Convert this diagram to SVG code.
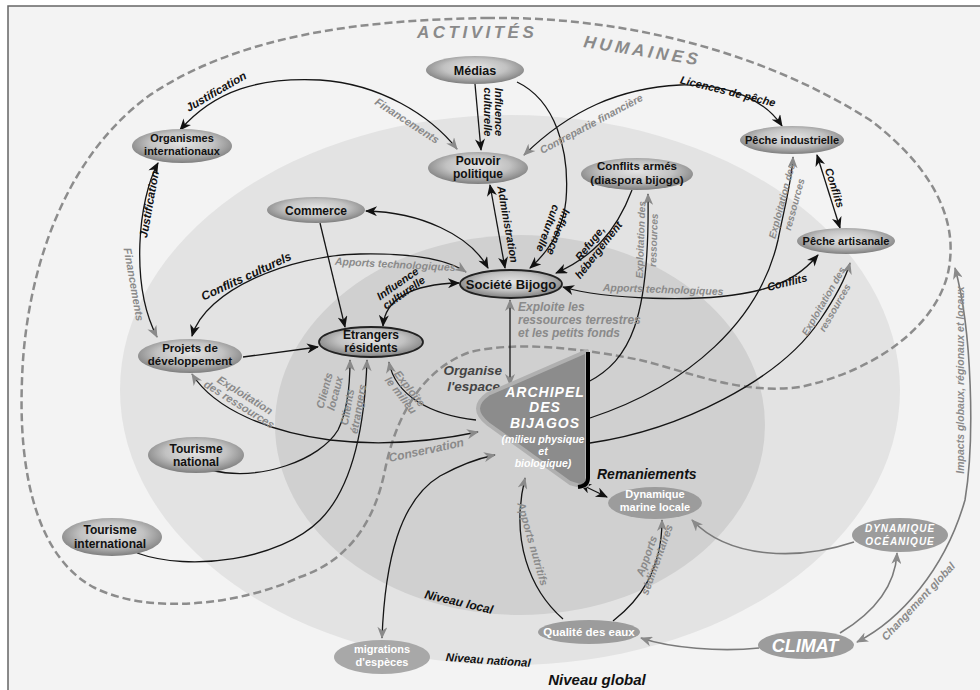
<svg xmlns="http://www.w3.org/2000/svg" width="980" height="690" viewBox="0 0 980 690">
<defs>
<style>
.ln{fill:none;stroke:#151515;stroke-width:1.3}
.lg{fill:none;stroke:#7a7a7a;stroke-width:1.6}
.nt{font-family:"Liberation Sans",Arial,sans-serif;font-weight:bold;fill:#111;text-anchor:middle}
.wt{font-family:"Liberation Sans",Arial,sans-serif;font-weight:bold;fill:#fff;text-anchor:middle}
.lb{font-family:"Liberation Sans",Arial,sans-serif;font-weight:bold;font-style:italic;fill:#111;text-anchor:middle}
.lgt{font-family:"Liberation Sans",Arial,sans-serif;font-weight:bold;font-style:italic;fill:#8a8a8a;text-anchor:middle}
.nd{fill:url(#ng)}
.nb{fill:#9c9c9c}
</style>
<radialGradient id="ng" cx="50%" cy="42%" r="58%">
<stop offset="0" stop-color="#e4e4e4"/>
<stop offset="0.55" stop-color="#c2c2c2"/>
<stop offset="1" stop-color="#7e7e7e"/>
</radialGradient>
<marker id="ab" viewBox="0 0 12 10" refX="11" refY="5" markerWidth="13" markerHeight="10" markerUnits="userSpaceOnUse" orient="auto-start-reverse"><path d="M0,0 L12,5 L0,10 L3.5,5 z" fill="#111"/></marker>
<marker id="ag" viewBox="0 0 12 10" refX="11" refY="5" markerWidth="13" markerHeight="10" markerUnits="userSpaceOnUse" orient="auto-start-reverse"><path d="M0,0 L12,5 L0,10 L3.5,5 z" fill="#8a8a8a"/></marker>
</defs>

<rect x="8" y="6" width="990" height="700" fill="#f3f3f3" stroke="#666" stroke-width="1.5"/>

<g id="zones">
<ellipse cx="510" cy="390" rx="390" ry="275" fill="#e3e3e3"/>
<ellipse cx="520" cy="425" rx="245" ry="190" fill="#d0d0d0"/>
<path d="M487,18 C620,16 760,50 870,120 C930,165 955,215 950,260 C945,320 880,370 800,387 C740,395 690,372 640,360 C590,350 520,340 470,352 C420,370 395,420 385,470 C375,520 350,560 300,577 C240,605 150,615 95,588 C40,560 18,480 22,380 C25,280 60,160 150,95 C240,35 360,20 487,18 Z" fill="none" stroke="#8c8c8c" stroke-width="2.5" stroke-dasharray="8,4"/>
<text x="417" y="38" font-family="Liberation Sans,Arial,sans-serif" font-weight="bold" font-style="italic" font-size="17" fill="#8a8a8a" letter-spacing="3.5">ACTIVITÉS</text>
<text x="583" y="47" font-family="Liberation Sans,Arial,sans-serif" font-weight="bold" font-style="italic" font-size="17" fill="#8a8a8a" letter-spacing="3.5" transform="rotate(9 583 47)">HUMAINES</text>
<text class="lb" style="font-size:12px" transform="translate(458,606) rotate(13)">Niveau local</text>
<text class="lb" style="font-size:11.5px" transform="translate(488,664) rotate(4)">Niveau national</text>
<text class="lb" style="font-size:15px" x="597" y="685">Niveau global</text>
</g>

<g id="connectors">
<path class="ln" d="M180,130 C215,90 260,77 320,80 C380,84 430,115 457,149" marker-start="url(#ab)" marker-end="url(#ag)"/>
<path class="ln" d="M158,163 C138,200 130,285 157,337" marker-start="url(#ab)" marker-end="url(#ag)"/>
<path class="ln" d="M475,84 L481,150" marker-end="url(#ab)"/>
<path class="ln" d="M517,82 C555,100 570,150 566,200 C563,230 548,252 530,268" marker-end="url(#ab)"/>
<path class="ln" d="M490,185 L505,268" marker-start="url(#ab)" marker-end="url(#ab)"/>
<path class="ln" d="M524,155 C570,110 620,88 680,85 C730,84 765,100 782,126" marker-start="url(#ag)" marker-end="url(#ab)"/>
<path class="ln" d="M366,211 C420,212 470,235 488,268" marker-start="url(#ab)" marker-end="url(#ab)"/>
<path class="ln" d="M320,223 L345,327" marker-end="url(#ab)"/>
<path class="ln" d="M192,336 C205,290 290,255 360,254 C410,253 445,258 466,272" marker-start="url(#ab)" marker-end="url(#ag)"/>
<path class="ln" d="M383,326 C385,300 410,284 459,283" marker-start="url(#ab)" marker-end="url(#ab)"/>
<path class="ln" d="M632,190 C615,235 590,258 556,273" marker-end="url(#ab)"/>
<path class="ln" d="M588,382 C630,360 650,320 648,194" marker-end="url(#ag)"/>
<path class="ln" d="M590,418 C690,385 760,320 778,240 C785,205 792,180 793,157" marker-end="url(#ag)"/>
<path class="ln" d="M590,443 C680,430 780,380 820,320 C835,298 845,280 850,263" marker-end="url(#ag)"/>
<path class="ln" d="M563,287 C600,298 700,305 760,290 C790,282 805,270 818,255" marker-start="url(#ab)" marker-end="url(#ab)"/>
<path class="ln" d="M817,155 L840,228" marker-start="url(#ab)" marker-end="url(#ab)"/>
<path class="ln" d="M243,357 L318,347" marker-end="url(#ab)"/>
<path class="ln" d="M192,374 C215,410 270,432 330,440 C390,447 440,440 478,432" marker-start="url(#ag)" marker-end="url(#ag)"/>
<path class="ln" d="M476,420 C430,415 395,395 389,362" marker-end="url(#ag)"/>
<path class="ln" d="M210,470 C260,482 320,460 338,430 C348,410 350,385 350,360" marker-end="url(#ag)"/>
<path class="ln" d="M137,553 C190,572 280,560 320,520 C355,485 365,420 367,360" marker-end="url(#ag)"/>
<path class="ln" d="M510,300 L510,385" marker-start="url(#ag)" marker-end="url(#ag)"/>
<path class="ln" d="M382,638 C385,560 400,500 440,476 C460,465 480,458 495,455" marker-start="url(#ag)" marker-end="url(#ag)"/>
<path class="ln" d="M563,619 C530,590 510,540 525,478" marker-end="url(#ag)"/>
<path class="ln" d="M613,621 C640,600 662,570 662,520" marker-end="url(#ag)"/>
<path class="ln" d="M580,484 L607,497" marker-start="url(#ab)" marker-end="url(#ab)"/>
<path class="lg" d="M854,542 C800,560 730,560 692,520" marker-end="url(#ag)"/>
<path class="lg" d="M840,633 C870,615 895,590 897,553" marker-end="url(#ag)"/>
<path class="lg" d="M759,648 C720,652 670,648 641,638" marker-end="url(#ag)"/>
<path class="lg" d="M857,642 C900,620 945,570 965,500 C975,440 972,330 955,268" marker-start="url(#ag)" marker-end="url(#ag)"/>

<text class="lb" style="font-size:11.5px" transform="translate(218,95) rotate(-30)">Justification</text>
<text class="lgt" style="font-size:11px" transform="translate(405,124) rotate(33)">Financements</text>
<text class="lb" style="font-size:11.5px" transform="translate(153,205) rotate(-80)">Justification</text>
<text class="lgt" style="font-size:11px" transform="translate(130,285) rotate(80)">Financements</text>
<g class="lb" style="font-size:11px" transform="translate(493,112) rotate(90)"><text y="-2">Influence</text><text y="9">culturelle</text></g>
<g class="lb" style="font-size:11px" transform="translate(553,230) rotate(110)"><text y="-2">Influence</text><text y="9">culturelle</text></g>
<text class="lb" style="font-size:11px" transform="translate(504,225) rotate(80)">Administration</text>
<text class="lgt" style="font-size:10.5px" transform="translate(593,127) rotate(-28)">Contrepartie financière</text>
<text class="lb" style="font-size:11px" transform="translate(727,95) rotate(14)">Licences de pêche</text>
<text class="lb" style="font-size:11px" transform="translate(831,189) rotate(72)">Conflits</text>
<text class="lb" style="font-size:12px" transform="translate(248,280) rotate(-25)">Conflits culturels</text>
<text class="lgt" style="font-size:10.5px" transform="translate(395,268) rotate(3)">Apports technologiques</text>
<g class="lb" style="font-size:11px" transform="translate(402,290) rotate(-35)"><text y="-4">Influence</text><text y="7">culturelle</text></g>
<g class="lb" style="font-size:11px" transform="translate(596,248) rotate(-52)"><text y="-4">Refuge,</text><text y="7">hébergement</text></g>
<g class="lgt" style="font-size:10px" transform="translate(648,240) rotate(-88)"><text y="-4">Exploitation des</text><text y="9">ressources</text></g>
<g class="lgt" style="font-size:10px" transform="translate(789,203) rotate(-75)"><text y="-4">Exploitation des</text><text y="9">ressources</text></g>
<g class="lgt" style="font-size:10px" transform="translate(830,305) rotate(-60)"><text y="-4">Exploitation des</text><text y="9">ressources</text></g>
<text class="lgt" style="font-size:10.5px" transform="translate(663,293) rotate(2)">Apports technologiques</text>
<text class="lb" style="font-size:11px" transform="translate(788,286) rotate(-14)">Conflits</text>
<g class="lgt" style="font-size:11px" transform="translate(242,400) rotate(32)"><text y="-2">Exploitation</text><text y="9">des ressources</text></g>
<g class="lgt" style="font-size:11px" transform="translate(405,392) rotate(52)"><text y="-2">Exploite</text><text y="9">le milieu</text></g>
<g class="lgt" style="font-size:11px" transform="translate(330,392) rotate(-75)"><text y="-2">Clients</text><text y="9">locaux</text></g>
<g class="lgt" style="font-size:11px" transform="translate(353,408) rotate(-80)"><text y="-2">Clients</text><text y="9">étrangers</text></g>
<text class="lgt" style="font-size:12px" transform="translate(427,454) rotate(-12)">Conservation</text>
<g class="lgt" style="font-size:12px;text-anchor:start"><text x="518" y="311">Exploite les</text><text x="518" y="324">ressources terrestres</text><text x="518" y="337">et les petits fonds</text></g>
<g class="lb" style="font-size:13.5px;text-anchor:end;fill:#444"><text x="502" y="375">Organise</text><text x="500" y="391">l'espace</text></g>
<text class="lb" style="font-size:14px;text-anchor:start" x="597" y="479">Remaniements</text>
<text class="lgt" style="font-size:11px" transform="translate(529,545) rotate(74)">Apports nutritifs</text>
<g class="lgt" style="font-size:11px" transform="translate(652,558) rotate(-70)"><text y="-2">Apports</text><text y="9">sédimentaires</text></g>
<text class="lgt" style="font-size:11px" transform="translate(921,604) rotate(-47)">Changement global</text>
<text class="lgt" style="font-size:10.5px" transform="translate(964,380) rotate(-90)">Impacts globaux, régionaux et locaux</text>
</g>

<g id="n-medias"><ellipse class="nd" cx="475" cy="70" rx="49" ry="14"/><text class="nt" x="475" y="75" style="font-size:12.5px">Médias</text></g>
<g id="n-organismes"><ellipse class="nd" cx="182" cy="146" rx="50" ry="17"/><text class="nt" x="182" y="142" style="font-size:11px">Organismes</text><text class="nt" x="182" y="155" style="font-size:11px">internationaux</text></g>
<g id="n-pouvoir"><ellipse class="nd" cx="478" cy="168" rx="50" ry="16"/><text class="nt" x="478" y="165" style="font-size:12px">Pouvoir</text><text class="nt" x="478" y="178" style="font-size:12px">politique</text></g>
<g id="n-conflits"><ellipse class="nd" cx="637" cy="174" rx="56" ry="16"/><text class="nt" x="637" y="170" style="font-size:11.5px">Conflits armés</text><text class="nt" x="637" y="184" style="font-size:11.5px">(diaspora bijogo)</text></g>
<g id="n-peche-ind"><ellipse class="nd" cx="792" cy="140" rx="52" ry="14"/><text class="nt" x="792" y="144" style="font-size:11px">Pêche industrielle</text></g>
<g id="n-peche-art"><ellipse class="nd" cx="846" cy="241" rx="49" ry="13"/><text class="nt" x="846" y="245" style="font-size:11px">Pêche artisanale</text></g>
<g id="n-commerce"><ellipse class="nd" cx="316" cy="210" rx="49" ry="13"/><text class="nt" x="316" y="215" style="font-size:12px">Commerce</text></g>
<g id="n-societe"><ellipse class="nd" cx="511" cy="284" rx="51" ry="14" stroke="#222" stroke-width="1.8"/><text class="nt" x="511" y="289" style="font-size:13px">Société Bijogo</text></g>
<g id="n-etrangers"><ellipse class="nd" cx="371" cy="342" rx="52" ry="15" stroke="#222" stroke-width="1.8"/><text class="nt" x="371" y="339" style="font-size:12px">Etrangers</text><text class="nt" x="371" y="352" style="font-size:12px">résidents</text></g>
<g id="n-projets"><ellipse class="nd" cx="190" cy="356" rx="52" ry="17"/><text class="nt" x="190" y="352" style="font-size:11.5px">Projets de</text><text class="nt" x="190" y="365" style="font-size:11.5px">développement</text></g>
<g id="n-tourisme-nat"><ellipse class="nd" cx="196" cy="455" rx="48" ry="18"/><text class="nt" x="196" y="453" style="font-size:12px">Tourisme</text><text class="nt" x="196" y="466" style="font-size:12px">national</text></g>
<g id="n-tourisme-int"><ellipse class="nd" cx="112" cy="537" rx="50" ry="19"/><text class="nt" x="110" y="534" style="font-size:12px">Tourisme</text><text class="nt" x="110" y="548" style="font-size:12px">international</text></g>

<g id="n-archipel">
<path d="M587,351 L587,485 Q585,488 570,483 L488,424 Q468,408 488,394 Z" fill="#8c8c8c" stroke="#b0b0b0" stroke-width="4" stroke-linejoin="round"/>
<path d="M588,352 L588,478 Q588,486 578,487" fill="none" stroke="#000" stroke-width="4"/>
<g font-family="Liberation Sans,Arial,sans-serif" font-weight="bold" font-style="italic" fill="#fff" text-anchor="middle">
<text x="545" y="397" font-size="14" letter-spacing="1">ARCHIPEL</text>
<text x="545" y="412" font-size="14" letter-spacing="1">DES</text>
<text x="545" y="428" font-size="14" letter-spacing="1">BIJAGOS</text>
<text x="543" y="443" font-size="10.5">(milieu physique</text>
<text x="543" y="455" font-size="10.5">et</text>
<text x="543" y="467" font-size="10.5">biologique)</text>
</g>
</g>
<g id="n-dyn-marine"><ellipse class="nb" cx="655" cy="503" rx="47" ry="16"/><text class="wt" x="655" y="498" style="font-size:11px">Dynamique</text><text class="wt" x="655" y="511" style="font-size:11px">marine locale</text></g>
<g id="n-qualite"><ellipse class="nb" cx="589" cy="632" rx="51" ry="12"/><text class="wt" x="589" y="636" style="font-size:11.5px">Qualité des eaux</text></g>
<g id="n-migrations"><ellipse cx="382" cy="657" rx="48" ry="17" fill="#a8a8a8"/><text class="wt" x="382" y="653" style="font-size:11px">migrations</text><text class="wt" x="382" y="666" style="font-size:11px">d'espèces</text></g>
<g id="n-oceanique"><ellipse class="nb" cx="900" cy="535" rx="48" ry="17"/><text class="wt" x="900" y="532" style="font-size:10px;font-style:italic;letter-spacing:1px">DYNAMIQUE</text><text class="wt" x="900" y="545" style="font-size:10px;font-style:italic;letter-spacing:1px">OCÉANIQUE</text></g>
<g id="n-climat"><ellipse class="nb" cx="806" cy="645" rx="48" ry="14"/><text class="wt" x="805" y="652" style="font-size:18px;font-style:italic">CLIMAT</text></g>
</svg>
